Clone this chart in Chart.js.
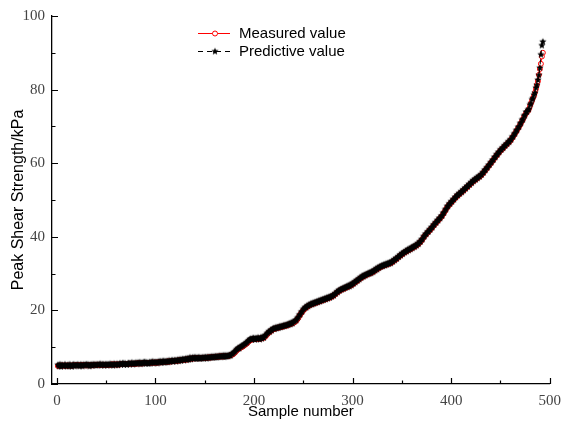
<!DOCTYPE html>
<html>
<head>
<meta charset="utf-8">
<script src="https://cdn.jsdelivr.net/npm/chart.js@4"></script>
<style>
  html, body { margin: 0; padding: 0; background: #fff; }
  #wrap { width: 569px; height: 423px; }
</style>
</head>
<body>
<div id="wrap"><canvas id="chart" width="569" height="423"></canvas></div>
<script>
// Peak shear strength: measured vs predicted, samples sorted by value

const seriesNames = ['Measured value', 'Predictive value'];

const measured = [
  4.9,5.0,5.0,5.0,5.0,5.0,5.0,5.0,5.0,5.0,
  5.0,5.0,5.0,5.0,5.0,5.0,5.1,5.1,5.1,5.1,
  5.1,5.1,5.1,5.1,5.1,5.1,5.1,5.1,5.1,5.1,
  5.1,5.1,5.1,5.1,5.1,5.1,5.1,5.2,5.2,5.2,
  5.2,5.2,5.2,5.2,5.2,5.2,5.2,5.2,5.2,5.2,
  5.2,5.2,5.2,5.2,5.3,5.3,5.3,5.3,5.3,5.3,
  5.3,5.3,5.3,5.3,5.4,5.4,5.4,5.4,5.4,5.4,
  5.4,5.4,5.5,5.5,5.5,5.5,5.5,5.5,5.5,5.5,
  5.6,5.6,5.6,5.6,5.6,5.6,5.6,5.7,5.7,5.7,
  5.7,5.7,5.7,5.7,5.7,5.8,5.8,5.8,5.8,5.8,
  5.8,5.8,5.9,5.9,5.9,5.9,6.0,6.0,6.0,6.0,
  6.0,6.1,6.1,6.1,6.1,6.2,6.2,6.2,6.3,6.3,
  6.3,6.3,6.4,6.4,6.4,6.5,6.5,6.5,6.6,6.6,
  6.6,6.7,6.7,6.8,6.9,6.9,6.9,6.9,7.0,7.0,
  7.0,7.0,7.0,7.0,7.0,7.0,7.0,7.1,7.1,7.1,
  7.1,7.1,7.2,7.2,7.2,7.2,7.3,7.3,7.3,7.3,
  7.4,7.4,7.4,7.4,7.5,7.5,7.5,7.5,7.5,7.5,
  7.6,7.6,7.6,7.6,7.7,7.8,7.9,8.0,8.2,8.4,
  8.7,9.0,9.3,9.5,9.7,9.8,10.0,10.1,10.3,10.5,
  10.7,10.9,11.1,11.4,11.7,11.9,12.0,12.1,12.2,12.2,
  12.2,12.2,12.3,12.3,12.3,12.3,12.4,12.4,12.5,12.6,
  12.8,13.1,13.4,13.7,14.0,14.2,14.4,14.6,14.8,14.9,
  15.0,15.1,15.2,15.3,15.3,15.4,15.5,15.5,15.6,15.7,
  15.8,15.8,15.9,16.0,16.1,16.2,16.3,16.4,16.5,16.6,
  16.8,17.0,17.3,17.6,18.0,18.5,18.9,19.3,19.7,20.0,
  20.3,20.6,20.8,21.0,21.2,21.3,21.5,21.6,21.7,21.8,
  21.9,22.0,22.1,22.2,22.3,22.4,22.5,22.6,22.7,22.8,
  22.9,23.0,23.1,23.2,23.3,23.4,23.5,23.6,23.8,23.9,
  24.1,24.3,24.6,24.8,25.0,25.2,25.4,25.5,25.7,25.8,
  25.9,26.0,26.2,26.3,26.4,26.5,26.6,26.8,26.9,27.1,
  27.3,27.5,27.7,27.9,28.1,28.3,28.5,28.7,28.9,29.1,
  29.2,29.4,29.5,29.6,29.8,29.9,30.0,30.1,30.2,30.4,
  30.5,30.7,30.9,31.1,31.2,31.4,31.6,31.7,31.9,32.0,
  32.1,32.2,32.3,32.4,32.5,32.6,32.7,32.8,32.9,33.1,
  33.3,33.5,33.7,33.9,34.1,34.3,34.6,34.8,35.0,35.2,
  35.4,35.6,35.8,35.9,36.1,36.3,36.4,36.5,36.7,36.9,
  37.0,37.2,37.3,37.5,37.7,37.9,38.1,38.4,38.7,39.0,
  39.4,39.8,40.2,40.5,40.8,41.1,41.4,41.7,42.0,42.3,
  42.6,43.0,43.3,43.6,43.9,44.2,44.5,44.8,45.1,45.4,
  45.8,46.2,46.7,47.1,47.6,48.0,48.4,48.7,49.0,49.3,
  49.6,49.9,50.2,50.5,50.8,51.1,51.3,51.5,51.8,52.0,
  52.2,52.5,52.7,53.0,53.2,53.5,53.7,54.0,54.2,54.5,
  54.7,55.0,55.2,55.4,55.6,55.8,56.0,56.2,56.4,56.6,
  56.9,57.2,57.5,57.9,58.2,58.5,58.9,59.2,59.6,59.9,
  60.3,60.6,61.0,61.4,61.7,62.1,62.4,62.7,63.1,63.4,
  63.7,63.9,64.2,64.5,64.8,65.0,65.3,65.6,65.8,66.1,
  66.5,66.9,67.3,67.7,68.2,68.6,69.1,69.5,70.0,70.5,
  71.0,71.5,72.0,72.6,73.1,73.6,74.0,74.2,74.8,75.6,
  76.3,77.0,77.7,78.3,79.2,80.2,81.3,82.3,84.0,85.6,
  87.0,89.0,90.0
];

const predicted = [
  5.2,4.8,5.3,4.7,5.2,5.0,4.8,5.3,5.0,4.8,
  5.2,4.8,5.3,5.0,4.7,5.2,5.3,4.8,5.2,5.0,
  5.3,5.0,4.8,5.3,5.1,4.8,5.3,5.0,5.2,5.4,
  5.0,5.3,4.8,5.2,5.3,4.9,5.4,5.1,5.3,5.0,
  5.4,5.1,5.3,5.5,5.0,5.3,5.4,5.0,5.3,5.4,
  5.0,5.4,5.2,5.5,5.1,5.4,5.0,5.5,5.3,5.1,
  5.5,5.1,5.4,5.6,5.2,5.5,5.7,5.2,5.6,5.4,
  5.2,5.6,5.7,5.3,5.6,5.8,5.3,5.7,5.5,5.8,
  5.4,5.8,5.6,5.9,5.4,5.8,5.5,5.9,6.0,5.5,
  5.9,5.6,5.5,6.0,5.6,5.9,6.1,5.6,6.0,5.8,
  6.0,5.6,6.1,5.9,6.2,5.7,6.1,6.3,5.8,6.2,
  5.9,6.3,5.9,6.4,6.0,6.3,6.5,6.0,6.4,6.5,
  6.1,6.5,6.6,6.2,6.7,6.3,6.7,6.8,6.4,6.8,
  6.9,6.5,7.0,6.6,7.2,6.7,7.1,7.2,6.8,7.3,
  6.8,7.2,6.9,7.3,6.8,7.2,6.9,7.3,6.9,7.3,
  7.3,6.9,7.4,7.0,7.4,7.1,7.5,7.1,7.5,7.2,
  7.6,7.2,7.6,7.3,7.7,7.3,7.7,7.4,7.8,7.3,
  7.8,7.4,7.8,7.5,7.9,7.6,8.1,8.2,8.4,8.7,
  8.9,9.3,9.5,9.8,9.6,10.1,10.2,10.4,10.5,10.8,
  10.9,11.2,11.3,11.7,11.9,12.2,12.3,12.0,12.5,12.4,
  12.0,12.5,12.2,12.6,12.4,12.1,12.7,12.3,12.8,12.5,
  13.1,13.3,13.7,13.9,14.3,14.1,14.7,14.5,15.0,15.2,
  14.9,15.4,15.1,15.5,15.2,15.7,15.4,15.8,15.5,16.0,
  15.7,16.1,15.8,16.3,16.0,16.5,16.2,16.7,16.4,16.9,
  17.0,17.3,17.3,17.9,18.2,18.8,18.9,19.6,19.7,20.3,
  20.5,20.9,20.7,21.3,21.1,21.6,21.4,21.9,21.6,22.1,
  21.8,22.3,22.0,22.5,22.2,22.7,22.4,22.9,22.6,23.1,
  22.8,23.3,23.0,23.5,23.2,23.7,23.4,23.9,23.7,24.2,
  24.0,24.6,24.5,25.1,24.9,25.5,25.3,25.8,25.6,26.1,
  25.8,26.3,26.1,26.6,26.3,26.8,26.5,27.1,26.8,27.4,
  27.2,27.8,27.6,28.2,28.0,28.6,28.4,29.0,28.8,29.4,
  29.1,29.7,29.4,29.9,29.7,30.2,29.9,30.4,30.1,30.7,
  30.4,31.0,30.8,31.4,31.1,31.7,31.5,32.0,31.8,32.3,
  32.0,32.5,32.2,32.7,32.4,32.9,32.6,33.1,32.8,33.4,
  33.2,33.8,33.6,34.2,34.0,34.6,34.5,35.1,34.9,35.5,
  35.3,35.9,35.7,36.2,36.0,36.6,36.3,36.8,36.6,37.2,
  36.9,37.5,37.2,37.8,37.6,38.2,38.0,38.7,38.6,39.3,
  39.3,40.1,40.1,40.8,40.7,41.4,41.3,42.0,41.9,42.6,
  42.5,43.3,43.2,43.9,43.8,44.5,44.4,45.1,45.0,45.7,
  45.7,46.5,46.6,47.4,47.5,48.3,48.3,49.0,48.9,49.6,
  49.5,50.2,50.1,50.8,50.7,51.4,51.2,51.8,51.7,52.3,
  52.1,52.8,52.6,53.3,53.1,53.8,53.6,54.3,54.1,54.8,
  54.6,55.3,55.1,55.7,55.5,56.1,55.9,56.5,56.3,56.9,
  56.8,57.5,57.4,58.2,58.1,58.8,58.8,59.5,59.5,60.2,
  60.2,60.9,60.9,61.7,61.6,62.4,62.3,63.0,63.0,63.7,
  63.6,64.2,64.1,64.8,64.7,65.3,65.2,65.9,65.7,66.4,
  66.4,67.2,67.2,68.0,68.1,68.9,69.0,69.8,69.9,70.8,
  70.9,71.8,71.9,72.9,73.0,73.9,73.9,74.5,74.7,75.9,
  76.2,77.3,77.6,78.6,79.1,80.5,81.2,82.6,83.9,85.9,
  89.5,92.0,93.0
];

// axis tick values (major labelled, minor unlabelled)
const xMajorTicks = [0, 100, 200, 300, 400, 500];
const xMinorTicks = [50, 150, 250, 350, 450];
const yMajorTicks = [0, 20, 40, 60, 80, 100];
const yMinorTicks = [10, 30, 50, 70, 90];

// sample numbers 1..N
const sampleNumbers = measured.map((_, i) => i + 1);

function makeStar(r, color) {
    const size = Math.ceil(r * 2) + 2;
    const c = document.createElement('canvas');
    c.width = size;
    c.height = size;
    const g = c.getContext('2d');
    g.translate(size / 2, size / 2);
    g.beginPath();
    for (let i = 0; i < 10; i++) {
        const rad = i % 2 ? r * 0.45 : r;
        const a = -Math.PI / 2 + i * Math.PI / 5;
        g.lineTo(rad * Math.cos(a), rad * Math.sin(a));
    }
    g.closePath();
    g.fillStyle = color;
    g.fill();
    return c;
}

const starImg = makeStar(3.8, '#000');

// inward tick marks on both axes
const tickMarks = {
    id: 'tickMarks',
    afterDraw(chart) {
        const ctx = chart.ctx;
        const x = chart.scales.x, y = chart.scales.y;
        const bottom = y.getPixelForValue(0);
        const left = x.getPixelForValue(-5);
        ctx.save();
        ctx.strokeStyle = '#000';
        ctx.lineWidth = 1.2;
        ctx.beginPath();
        xMajorTicks.forEach(v => { const p = Math.round(x.getPixelForValue(v)) + 0.5; ctx.moveTo(p, bottom); ctx.lineTo(p, bottom - 6); });
        xMinorTicks.forEach(v => { const p = Math.round(x.getPixelForValue(v)) + 0.5; ctx.moveTo(p, bottom); ctx.lineTo(p, bottom - 3.5); });
        yMajorTicks.forEach(v => { const p = Math.round(y.getPixelForValue(v)) + 0.5; ctx.moveTo(left, p); ctx.lineTo(left + 6, p); });
        yMinorTicks.forEach(v => { const p = Math.round(y.getPixelForValue(v)) + 0.5; ctx.moveTo(left, p); ctx.lineTo(left + 3.5, p); });
        ctx.stroke();
        ctx.restore();
    }
};

// legend drawn as line + marker + text, like the original figure
const lineLegend = {
    id: 'lineLegend',
    afterDraw(chart) {
        const ctx = chart.ctx;
        const rows = [
            { y: 33, color: '#ff0000', dash: [], marker: 'circle' },
            { y: 51, color: '#000', dash: [5, 4], marker: 'star' }
        ];
        ctx.save();
        rows.forEach((r, i) => {
            ctx.strokeStyle = r.color;
            ctx.lineWidth = 1;
            ctx.setLineDash(r.dash);
            ctx.beginPath();
            ctx.moveTo(198, r.y + 0.5);
            ctx.lineTo(230, r.y + 0.5);
            ctx.stroke();
            ctx.setLineDash([]);
            if (r.marker === 'circle') {
                ctx.beginPath();
                ctx.arc(215, r.y + 0.5, 2.5, 0, Math.PI * 2);
                ctx.fillStyle = '#fff';
                ctx.fill();
                ctx.stroke();
            } else {
                ctx.drawImage(starImg, 215 - starImg.width / 2, r.y + 0.5 - starImg.height / 2);
            }
            ctx.fillStyle = '#000';
            ctx.font = '15px "Liberation Sans", Arial, sans-serif';
            ctx.textBaseline = 'middle';
            ctx.fillText(chart.data.datasets[i].label, 239, r.y + 1);
        });
        ctx.restore();
    }
};

const ctx = document.getElementById('chart').getContext('2d');

const chart = new Chart(ctx, {
    type: 'line',
    data: {
        labels: sampleNumbers,
        datasets: [
            {
                label: seriesNames[0],
                data: sampleNumbers.map((n, i) => ({ x: n, y: measured[i] })),
                borderColor: '#ff0000',
                borderWidth: 1,
                pointStyle: 'circle',
                pointRadius: 2.5,
                pointBorderWidth: 1,
                pointBorderColor: '#ff0000',
                pointBackgroundColor: '#fff',
                fill: false,
                tension: 0,
                order: 2
            },
            {
                label: seriesNames[1],
                data: sampleNumbers.map((n, i) => ({ x: n, y: predicted[i] })),
                borderColor: '#000',
                borderWidth: 1,
                borderDash: [5, 4],
                pointStyle: starImg,
                pointRadius: 3.8,
                fill: false,
                tension: 0,
                order: 1
            }
        ]
    },
    options: {
        responsive: false,
        animation: false,
        layout: { padding: { top: 15, right: 16, left: 0, bottom: 0 } },
        plugins: {
            legend: { display: false },
            tooltip: { enabled: false }
        },
        scales: {
            x: {
                type: 'linear',
                min: -5,
                max: 500,
                afterFit: s => { s.height = 39; },
                afterBuildTicks: s => { s.ticks = xMajorTicks.map(v => ({ value: v })); },
                grid: { display: false, drawTicks: false },
                border: { display: true, color: '#000', width: 1.3 },
                ticks: {
                    maxRotation: 0,
                    autoSkip: false,
                    padding: 8,
                    color: '#444',
                    font: { family: '"Liberation Serif", "Times New Roman", serif', size: 15 }
                },
                title: {
                    display: true,
                    text: 'Sample number',
                    color: '#000',
                    padding: { top: 0, bottom: 2 },
                    font: { family: '"Liberation Sans", Arial, sans-serif', size: 15 }
                }
            },
            y: {
                min: 0,
                max: 100,
                afterFit: s => { s.width = 52; },
                afterBuildTicks: s => { s.ticks = yMajorTicks.map(v => ({ value: v })); },
                grid: { display: false, drawTicks: false },
                border: { display: true, color: '#000', width: 1.3 },
                ticks: {
                    padding: 7,
                    color: '#444',
                    font: { family: '"Liberation Serif", "Times New Roman", serif', size: 15 }
                },
                title: {
                    display: true,
                    text: 'Peak Shear Strength/kPa',
                    color: '#000',
                    padding: { top: 9, bottom: 0 },
                    font: { family: '"Liberation Sans", Arial, sans-serif', size: 16 }
                }
            }
        }
    },
    plugins: [tickMarks, lineLegend]
});
</script>
</body>
</html>
